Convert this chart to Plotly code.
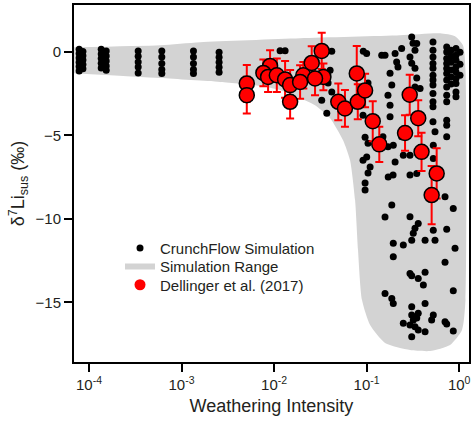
import plotly.graph_objects as go

# ---------------- data ----------------
# Simulation range envelope (weathering intensity, delta7Li)
range_x = [6.92e-5, 5.87e-4, 1.59e-3, 0.0191, 0.2296, 0.621, 0.902, 1.099, 1.17, 1.17,
           1.072, 0.796, 0.484, 0.294, 0.158, 0.109, 0.0891, 0.0807, 0.0750, 0.0662,
           0.0556, 0.0403, 0.0277, 0.0191, 0.0116, 7.06e-3, 2.61e-3, 5.87e-4, 6.92e-5]
range_y = [0.28, 0.40, 0.58, 0.82, 1.00, 1.12, 0.94, 0.40, -1.10, -14.87,
           -16.66, -17.56, -17.92, -17.86, -17.44, -16.37, -14.87, -11.87, -8.88, -6.49,
           -5.29, -3.97, -3.19, -2.77, -2.29, -2.05, -1.81, -1.57, -1.28]

# CrunchFlow simulation points
sim_x = [
    7.83e-5, 7.83e-5, 7.83e-5, 7.83e-5, 7.83e-5, 7.83e-5,
    8.6e-5, 8.6e-5, 8.6e-5, 8.6e-5, 8.6e-5,
    1.355e-4, 1.355e-4, 1.355e-4, 1.355e-4, 1.355e-4,
    1.535e-4, 1.535e-4, 1.535e-4, 1.535e-4, 1.535e-4,
    3.40e-4, 3.40e-4, 3.40e-4, 3.40e-4, 3.40e-4,
    6.12e-4, 6.12e-4, 6.12e-4, 6.12e-4, 6.12e-4,
    1.345e-3, 1.345e-3, 1.345e-3, 1.345e-3, 1.345e-3,
    2.546e-3, 2.546e-3, 2.546e-3, 2.546e-3, 2.546e-3,
    0.01161, 0.01315, 0.0420, 0.0403, 0.0383, 0.0420, 0.0327, 0.0371,
    0.0920, 0.158, 0.179, 0.187, 0.170, 0.0914, 0.1035, 0.0914,
    0.0962, 0.1035, 0.1285, 0.1002, 0.0914, 0.109, 0.1035, 0.0962, 0.0962,
    0.193, 0.187, 0.158, 0.203, 0.211, 0.218, 0.179,
    0.239, 0.307, 0.317, 0.348, 0.333, 0.294, 0.307, 0.333, 0.348, 0.333, 0.378,
    0.521, 0.521, 0.521, 0.521, 0.521, 0.521, 0.521, 0.521, 0.521, 0.521, 0.521, 0.521,
    0.733, 0.733, 0.733, 0.733, 0.733, 0.733, 0.733, 0.733, 0.733, 0.733, 0.733, 0.733, 0.733,
    0.923, 0.923, 0.923, 0.923, 0.923, 0.923, 0.923, 0.923, 0.923,
    0.817, 0.817, 0.817, 0.817, 0.817, 0.817,
    1.02, 1.02, 1.02,
    0.548, 0.171, 0.203, 0.294, 0.294, 0.361, 0.333, 0.319, 0.307, 0.428,
    0.548, 0.525, 0.733, 0.863, 0.703, 0.249, 0.194, 0.902, 0.194, 0.249,
    0.294, 0.525, 0.525, 0.150, 0.170, 0.348, 0.1455, 0.100, 0.179, 0.239,
    0.194, 0.703, 0.294, 0.307, 0.361, 0.428, 0.410, 0.863, 0.158, 0.187,
    0.194, 0.307, 0.428, 0.525, 0.504, 0.361, 0.307, 0.319, 0.249, 0.294,
    0.333, 0.361, 0.428, 0.348, 0.703, 0.733, 0.863, 0.307,
]
sim_y = [
    0.16, -0.10, -0.36, -0.62, -0.88, -1.14,
    0.03, -0.23, -0.49, -0.75, -1.01,
    0.16, -0.12, -0.40, -0.68, -0.96,
    0.05, -0.25, -0.55, -0.85, -1.10,
    0.06, -0.26, -0.60, -0.90, -1.26,
    0.06, -0.30, -0.69, -1.05, -1.29,
    0.06, -0.30, -0.69, -1.05, -1.29,
    -0.02, -0.32, -0.62, -0.92, -1.22,
    0.07, 0.07, 0.04, -1.10, -1.87, -2.40, -2.89, -3.67,
    0.04, -0.20, -1.28, -1.99, -2.59, -2.59, -1.87, -3.79,
    -5.11, -5.47, -5.59, -6.29, -6.49, -6.90, -7.26, -7.86, -8.28,
    -7.38, -9.18, -9.89, -0.10, -0.60, -0.90, -3.19,
    0.20, 0.90, 0.52, 0.50, 0.10, -0.30, -0.68, -0.98, -1.57, -2.10, -2.19,
    0.60, 0.10, -0.30, -0.69, -0.98, -1.40, -1.69, -1.99, -2.49, -2.99, -3.29, -4.19,
    0.30, 0.00, -0.40, -0.69, -0.99, -1.29, -1.69, -2.10, -2.59, -2.99, -4.09, -4.39, -5.09,
    0.20, -0.20, -0.50, -0.90, -1.20, -1.59, -1.89, -2.40, -2.69,
    0.10, -0.26, -0.62, -1.09, -1.51, -1.93,
    -0.02, -0.74, -1.40,
    -4.79, -7.49, -6.59, -7.38, -9.88, -10.28, -10.57, -10.87, -11.28, -11.28,
    -11.28, -10.68, -10.63, -9.38, -8.68, -11.57, -11.47, -11.77, -5.59, -6.19,
    -6.19, -5.59, -6.38, -5.09, -5.69, -7.28, -0.20, -0.10, -3.89, -5.09,
    -12.28, -12.61, -13.27, -13.41, -13.57, -13.21, -13.97, -14.31, -14.47, -14.77,
    -15.07, -15.27, -15.07, -15.77, -16.07, -15.66, -15.77, -16.07, -16.26, -16.37,
    -16.47, -16.66, -16.77, -15.95, -16.17, -16.31, -16.72, -17.07,
]

# Dellinger et al. (2017) measurements
dell_x = [0.00507, 0.00507, 0.00905, 0.00766, 0.00861, 0.0107, 0.01315, 0.0149, 0.0149,
          0.0207, 0.0255, 0.0327, 0.0341, 0.0277, 0.0191, 0.0782, 0.0494, 0.0583,
          0.0802, 0.0962, 0.1164, 0.137, 0.292, 0.361, 0.260, 0.392, 0.571, 0.504]
dell_y = [-1.89, -2.59, -0.84, -1.26, -1.50, -1.40, -1.65, -1.99, -2.99,
          -1.40, -0.66, 0.06, -1.50, -1.59, -1.80, -1.29, -2.99, -3.39,
          -2.99, -2.31, -4.15, -5.54, -2.57, -3.97, -4.86, -5.99, -7.28, -8.58]
dell_err = [1.10, 1.10, 0.94, 0.80, 0.90, 1.00, 1.10, 0.90, 1.00,
            0.80, 1.00, 1.08, 0.80, 1.00, 1.00, 1.64, 1.10, 1.10,
            1.05, 1.00, 1.20, 1.05, 1.20, 1.08, 1.07, 1.15, 1.50, 1.75]

x_tickvals = [1e-4, 1e-3, 1e-2, 1e-1, 1]
x_ticktext = ["10<sup>-4</sup>", "10<sup>-3</sup>", "10<sup>-2</sup>", "10<sup>-1</sup>", "10<sup>0</sup>"]
y_tickvals = [0, -5, -10, -15]
y_ticktext = ["0", "\u22125", "\u221210", "\u221215"]

# ---------------- figure ----------------
FONT = "Liberation Sans, Arial, sans-serif"
fig = go.Figure()

fig.add_trace(go.Scatter(
    x=range_x, y=range_y, mode="lines", fill="toself",
    line=dict(color="#d3d3d3", width=0, shape="spline", smoothing=0.6),
    fillcolor="#d3d3d3", showlegend=False, hoverinfo="skip"))

fig.add_trace(go.Scatter(
    x=sim_x, y=sim_y, mode="markers",
    marker=dict(color="black", size=7), showlegend=False))

fig.add_trace(go.Scatter(
    x=dell_x, y=dell_y, mode="markers",
    marker=dict(color="#ff0000", size=15, line=dict(color="black", width=1.5)),
    error_y=dict(type="data", array=dell_err, color="#ff0000", thickness=2, width=4),
    showlegend=False))

# legend entries
fig.add_trace(go.Scatter(x=[None], y=[None], mode="markers", name="CrunchFlow Simulation",
                         marker=dict(color="black", size=7), legend="legend"))
fig.add_trace(go.Scatter(x=[None], y=[None], mode="lines", name="Simulation Range",
                         line=dict(color="#d3d3d3", width=6), legend="legend2"))
fig.add_trace(go.Scatter(x=[None], y=[None], mode="markers", name="Dellinger et al. (2017)",
                         marker=dict(color="#ff0000", size=11), legend="legend3"))

leg_common = dict(font=dict(family=FONT, size=15, color="#231f20"),
                  bgcolor="rgba(0,0,0,0)", xanchor="left", yanchor="middle", x=0.1165)
fig.update_layout(
    legend=dict(y=0.3185, **leg_common),
    legend2=dict(y=0.267, **leg_common),
    legend3=dict(y=0.2157, **leg_common),
)

fig.update_xaxes(
    type="log", range=[-4.162, 0.106],
    tickvals=x_tickvals, ticktext=x_ticktext,
    ticks="outside", ticklen=8, tickwidth=2, tickcolor="black",
    showline=True, linewidth=2, linecolor="black", mirror=True,
    showgrid=False, zeroline=False, automargin=False,
    tickfont=dict(family=FONT, size=15, color="#231f20"),
    title=dict(text="Weathering Intensity", font=dict(family=FONT, size=18, color="#231f20"),
               standoff=7),
)
fig.update_yaxes(
    range=[-18.58, 2.81],
    tickvals=y_tickvals, ticktext=y_ticktext,
    ticks="outside", ticklen=8, tickwidth=2, tickcolor="black",
    showline=True, linewidth=2, linecolor="black", mirror=True,
    showgrid=False, zeroline=False, automargin=False,
    tickfont=dict(family=FONT, size=15, color="#231f20"),
    title=dict(text="\u03b4<sup>7</sup>Li<sub>sus</sub> (\u2030)",
               font=dict(family=FONT, size=18, color="#231f20"), standoff=6),
)

fig.update_layout(
    width=474, height=423,
    margin=dict(l=74, r=5, t=5, b=61, autoexpand=False),
    paper_bgcolor="white", plot_bgcolor="white",
)

fig.write_html("out.html", config={"displayModeBar": False},
               post_script="document.body.style.margin='0';document.body.style.overflow='hidden';")
